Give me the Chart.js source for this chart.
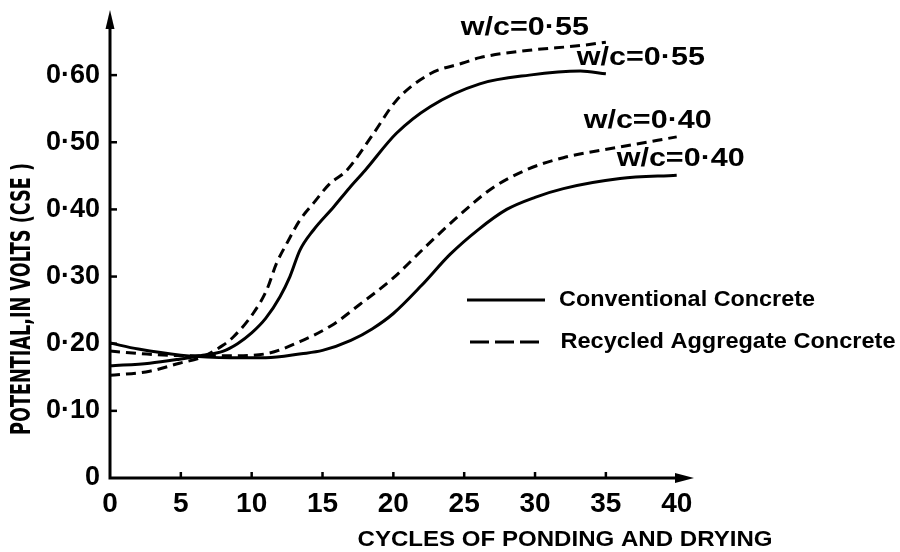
<!DOCTYPE html>
<html>
<head>
<meta charset="utf-8">
<script src="https://cdn.jsdelivr.net/npm/chart.js@4.4.1/dist/chart.umd.min.js"></script>
<style>
  html, body { margin: 0; padding: 0; background: #fff; }
  #wrap { width: 900px; height: 552px; position: relative; }
</style>
</head>
<body>
<div id="wrap"><canvas id="potentialChart"></canvas></div>
<script>
// 軸の目盛り
const xTicks = [0, 5, 10, 15, 20, 25, 30, 35, 40];
const yTicks = [0, 0.1, 0.2, 0.3, 0.4, 0.5, 0.6];
const yTickLabels = ['0', '0·10', '0·20', '0·30', '0·40', '0·50', '0·60'];

// Conventional Concrete, w/c=0.55
const conv55X = [0, 2.8, 4.9, 6.35, 8, 9, 10, 11, 12, 12.7, 13.4, 14.35, 15.8, 16.9, 18, 20.2, 22.6, 26.1, 29.6, 33.2, 35];
const conv55Y = [0.167, 0.171, 0.177, 0.182, 0.189, 0.2, 0.216, 0.238, 0.27, 0.3, 0.339, 0.369, 0.404, 0.432, 0.458, 0.513, 0.553, 0.587, 0.600, 0.606, 0.602];

// Recycled Aggregate Concrete, w/c=0.55
const rac55X = [0, 2.8, 4.9, 6.35, 8, 8.7, 10.1, 11.06, 11.76, 12.47, 13.4, 14.35, 15.5, 16.7, 18.6, 20.2, 22.6, 24.9, 26.1, 29.6, 33.2, 35];
const rac55Y = [0.153, 0.159, 0.171, 0.179, 0.198, 0.21, 0.245, 0.28, 0.32, 0.349, 0.384, 0.409, 0.438, 0.458, 0.513, 0.562, 0.602, 0.618, 0.626, 0.637, 0.644, 0.649];

// Conventional Concrete, w/c=0.40
const conv40X = [0, 2, 5, 8.5, 11, 13.5, 15, 17, 18.5, 20, 22, 24, 26, 28, 30, 32, 36, 40];
const conv40Y = [0.201, 0.192, 0.183, 0.179, 0.179, 0.185, 0.19, 0.205, 0.222, 0.245, 0.287, 0.333, 0.37, 0.4, 0.418, 0.431, 0.446, 0.451];

// Recycled Aggregate Concrete, w/c=0.40
const rac40X = [0, 3, 6, 8.5, 11, 13.4, 15.7, 17.6, 20, 22.3, 24.7, 27, 29.5, 32, 36, 40];
const rac40Y = [0.189, 0.184, 0.182, 0.182, 0.185, 0.203, 0.228, 0.258, 0.298, 0.345, 0.392, 0.432, 0.46, 0.477, 0.493, 0.508];

const seriesNames = ['Conventional Concrete', 'Recycled Aggregate Concrete'];
const curveLabels = ['w/c=0·55', 'w/c=0·55', 'w/c=0·40', 'w/c=0·40'];

const boldFamily = '"Liberation Sans", Arial, sans-serif';
const narrowFamily = '"Liberation Sans Narrow", "DejaVu Sans Condensed", sans-serif';

function toPoints(xs, ys) {
  return xs.map((x, i) => ({ x: x, y: ys[i] }));
}

// テキストを指定幅に合わせて描く
function fitText(ctx, text, cx, cy, width, font, rotate) {
  ctx.save();
  ctx.font = font;
  const w = ctx.measureText(text).width;
  ctx.translate(cx, cy);
  if (rotate) ctx.rotate(-Math.PI / 2);
  ctx.scale(width / w, 1);
  ctx.textAlign = 'center';
  ctx.textBaseline = 'middle';
  ctx.fillStyle = '#000';
  ctx.fillText(text, 0, 0);
  ctx.restore();
}

const decorations = {
  id: 'decorations',
  afterDraw(chart) {
    const ctx = chart.ctx;
    const { left, right, top, bottom } = chart.chartArea;
    const xs = chart.scales.x, ys = chart.scales.y;
    ctx.save();
    ctx.strokeStyle = '#000';
    ctx.fillStyle = '#000';

    // 軸線と矢印
    ctx.lineWidth = 3;
    ctx.beginPath();
    ctx.moveTo(left, top + 14);
    ctx.lineTo(left, bottom);
    ctx.lineTo(right - 14, bottom);
    ctx.stroke();
    ctx.beginPath();
    ctx.moveTo(left, top - 2);
    ctx.lineTo(left - 4.5, top + 17);
    ctx.lineTo(left + 4.5, top + 17);
    ctx.closePath();
    ctx.fill();
    ctx.beginPath();
    ctx.moveTo(right + 1, bottom);
    ctx.lineTo(right - 18, bottom - 5);
    ctx.lineTo(right - 18, bottom + 5);
    ctx.closePath();
    ctx.fill();

    // 内向きの目盛り
    ctx.lineWidth = 2.5;
    xTicks.slice(1, -1).forEach(v => {
      const px = xs.getPixelForValue(v);
      ctx.beginPath();
      ctx.moveTo(px, bottom);
      ctx.lineTo(px, bottom - 6);
      ctx.stroke();
    });
    yTicks.slice(1).forEach(v => {
      const py = ys.getPixelForValue(v);
      ctx.beginPath();
      ctx.moveTo(left, py);
      ctx.lineTo(left + 7, py);
      ctx.stroke();
    });

    // 軸タイトル
    fitText(ctx, 'POTENTIAL,IN VOLTS (CSE )', 23, 299, 272, 'bold 26px ' + narrowFamily, true);
    fitText(ctx, 'CYCLES OF PONDING AND DRYING', 565, 540, 415, 'bold 22px ' + boldFamily, false);

    // 凡例
    ctx.lineWidth = 3;
    ctx.beginPath();
    ctx.moveTo(467, 300);
    ctx.lineTo(545, 300);
    ctx.stroke();
    ctx.setLineDash([19, 6]);
    ctx.beginPath();
    ctx.moveTo(470, 342);
    ctx.lineTo(542, 342);
    ctx.stroke();
    ctx.setLineDash([]);
    fitText(ctx, seriesNames[0], 559 + 128, 300, 256, 'bold 22px ' + boldFamily, false);
    fitText(ctx, seriesNames[1], 561 + 167, 342, 335, 'bold 22px ' + boldFamily, false);

    // 曲線ラベル（終点からのずれ）
    const offsets = [[35, -16], [-81, -14], [4, -16], [-29, -16]];
    chart.data.datasets.forEach((ds, i) => {
      const last = ds.data[ds.data.length - 1];
      const px = xs.getPixelForValue(last.x) + offsets[i][0];
      const py = ys.getPixelForValue(last.y) + offsets[i][1];
      fitText(ctx, curveLabels[i], px, py, 128, 'bold 26px ' + boldFamily, false);
    });
    ctx.restore();
  }
};

function lineSet(label, xs, ys, dashed) {
  return {
    label: label,
    data: toPoints(xs, ys),
    borderColor: '#000',
    borderWidth: 3,
    borderDash: dashed ? [10, 6] : [],
    pointRadius: 0,
    fill: false,
    cubicInterpolationMode: 'monotone'
  };
}

const ctx = document.getElementById('potentialChart').getContext('2d');
const potentialChart = new Chart(ctx, {
  type: 'line',
  data: {
    datasets: [
      lineSet(seriesNames[0] + ' ' + curveLabels[0], conv55X, conv55Y, false),
      lineSet(seriesNames[1] + ' ' + curveLabels[1], rac55X, rac55Y, true),
      lineSet(seriesNames[0] + ' ' + curveLabels[2], conv40X, conv40Y, false),
      lineSet(seriesNames[1] + ' ' + curveLabels[3], rac40X, rac40Y, true)
    ]
  },
  options: {
    responsive: true,
    maintainAspectRatio: false,
    animation: false,
    layout: { padding: { top: 12, right: 207, left: 0, bottom: 0 } },
    plugins: {
      legend: { display: false },
      tooltip: { enabled: false }
    },
    scales: {
      x: {
        type: 'linear',
        min: 0,
        max: 41.15,
        afterBuildTicks: s => { s.ticks = xTicks.map(v => ({ value: v })); },
        afterFit: s => { s.height = 74; s.paddingLeft = 0; s.paddingRight = 0; },
        grid: { display: false, drawTicks: false },
        border: { display: false },
        ticks: {
          color: '#000',
          padding: 9,
          maxRotation: 0,
          autoSkip: false,
          font: { family: boldFamily, size: 28, weight: 'bold' }
        }
      },
      y: {
        type: 'linear',
        min: 0,
        max: 0.694,
        afterBuildTicks: s => { s.ticks = yTicks.map(v => ({ value: v })); },
        afterFit: s => { s.width = 110; s.paddingTop = 0; s.paddingBottom = 0; },
        grid: { display: false, drawTicks: false },
        border: { display: false },
        ticks: {
          color: '#000',
          padding: 10,
          autoSkip: false,
          font: { family: boldFamily, size: 27, weight: 'bold' },
          callback: v => {
            const i = yTicks.findIndex(t => Math.abs(t - v) < 1e-9);
            return i >= 0 ? yTickLabels[i] : '';
          }
        }
      }
    }
  },
  plugins: [decorations]
});
</script>
</body>
</html>
